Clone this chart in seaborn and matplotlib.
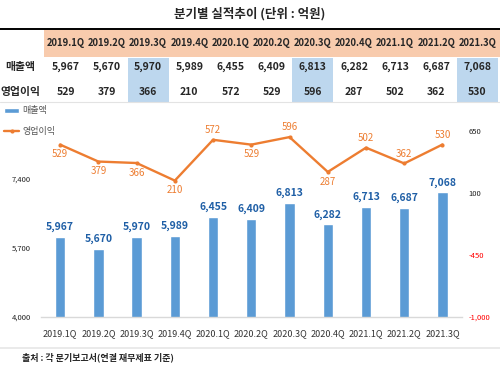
import numpy as np
import pandas as pd
import matplotlib
matplotlib.use('Agg')  # no display in the sandbox
import matplotlib.pyplot as plt
from matplotlib.patches import Rectangle
from matplotlib.lines import Line2D
import seaborn as sns

# chart data
quarters = ['2019.1Q', '2019.2Q', '2019.3Q', '2019.4Q', '2020.1Q', '2020.2Q',
            '2020.3Q', '2020.4Q', '2021.1Q', '2021.2Q', '2021.3Q']
sales = [5967, 5670, 5970, 5989, 6455, 6409, 6813, 6282, 6713, 6687, 7068]
op_profit = [529, 379, 366, 210, 572, 529, 596, 287, 502, 362, 530]
highlight_quarters = ['2019.3Q', '2020.3Q', '2021.3Q']
profit_label_above = [False, False, False, False, True, False, True, False, True, True, True]

left_ticks = [4000, 5700, 7400]
right_ticks = [-1000, -450, 100, 650]

title = '분기별 실적추이 (단위 : 억원)'
source_note = '출처 : 각 분기보고서(연결 재무제표 기준)'
row_labels = ['매출액', '영업이익']

BAR_COLOR = '#5B9BD5'
LINE_COLOR = '#ED7D31'
BAR_TEXT = '#1F5FA6'
HEADER_BG = '#F8CBAD'
HILITE_BG = '#BDD7EE'

W, H = 500, 370


def fx(x):
    return x / W


def fy(y):
    return 1 - y / H


sns.set_style('white')
plt.rcParams['font.family'] = ['Noto Sans CJK KR', 'DejaVu Sans']

df = pd.DataFrame({'quarter': quarters, 'sales': sales, 'op_profit': op_profit})

fig = plt.figure(figsize=(5, 3.7), dpi=100)

# --- table at the top ---
fig.text(0.5, fy(14), title, ha='center', va='center', fontsize=9, fontweight='bold')
fig.add_artist(Line2D([0, 1], [fy(28.5), fy(28.5)], color='black', lw=1.4))
fig.add_artist(Rectangle((fx(44), fy(57)), 1 - fx(44), (57 - 29.5) / H,
                         facecolor=HEADER_BG, edgecolor='none'))
col_x0, col_step, col_w = 65.8, 41.17, 41.2
for i, q in enumerate(quarters):
    cx = col_x0 + col_step * i
    if q in highlight_quarters:
        fig.add_artist(Rectangle((fx(cx - col_w / 2), fy(101.5)), col_w / W, (101.5 - 57.5) / H,
                                 facecolor=HILITE_BG, edgecolor='none'))
    fig.text(fx(cx), fy(43), q, ha='center', va='center', fontsize=6.8, fontweight='bold')
    fig.text(fx(cx), fy(67), f'{sales[i]:,}', ha='center', va='center', fontsize=7.5, fontweight='bold')
    fig.text(fx(cx), fy(92), f'{op_profit[i]:,}', ha='center', va='center', fontsize=7.5, fontweight='bold')
fig.text(fx(20), fy(67), row_labels[0], ha='center', va='center', fontsize=7.8, fontweight='bold')
fig.text(fx(20), fy(92), row_labels[1], ha='center', va='center', fontsize=7.8, fontweight='bold')
fig.add_artist(Line2D([0, 1], [fy(102), fy(102)], color='#e3e3e3', lw=0.8))

# --- combo chart ---
ax = fig.add_axes([fx(41), fy(317), (461.6 - 41) / W, (317 - 110) / H])
sns.barplot(data=df, x='quarter', y='sales', color=BAR_COLOR, width=0.27,
            saturation=1, ax=ax, label='매출액')
ax.set_ylim(4000, 9100)
ax.set_yticks(left_ticks)
ax.set_yticklabels([f'{t:,}' for t in left_ticks])
ax.set_xlabel('')
ax.set_ylabel('')
ax.tick_params(axis='y', length=0, labelsize=5.5, pad=7, labelcolor='#222222')
ax.tick_params(axis='x', length=0, labelsize=6.5, pad=9, labelcolor='#333333')
for s in ['left', 'right', 'top']:
    ax.spines[s].set_visible(False)
ax.spines['bottom'].set_color('#d9d9d9')
ax.spines['bottom'].set_linewidth(1)

for i, v in enumerate(sales):
    ax.annotate(f'{v:,}', (i, v), xytext=(0, 3.5), textcoords='offset points',
                ha='center', va='bottom', fontsize=7.5, fontweight='bold', color=BAR_TEXT)

ax2 = ax.twinx()
sns.lineplot(x=np.arange(len(df)), y=df['op_profit'], color=LINE_COLOR, lw=1.7,
             marker='o', markersize=3, markeredgewidth=0, ax=ax2, label='영업이익')
ax2.set_ylim(-1000, -1000 + 550 * 207 / 62)
ax2.set_yticks(right_ticks)
ax2.set_yticklabels([f'{t:,}' for t in right_ticks])
ax2.set_ylabel('')
ax2.tick_params(axis='y', length=0, labelsize=5.5, pad=5)
for lbl, t in zip(ax2.get_yticklabels(), right_ticks):
    lbl.set_color('#ff0000' if t < 0 else '#222222')
for s in ax2.spines.values():
    s.set_visible(False)
ax.set_xlim(-0.5, len(quarters) - 0.5)

for i, v in enumerate(op_profit):
    off = 7 if profit_label_above[i] else -7
    ax2.annotate(f'{v:,}', (i, v), xytext=(0, off), textcoords='offset points',
                 ha='center', va='center', fontsize=7, color=LINE_COLOR)

# legend at the top-left of the chart
for a in (ax, ax2):
    if a.get_legend() is not None:
        a.get_legend().remove()
h1, l1 = ax.get_legend_handles_labels()
h2, l2 = ax2.get_legend_handles_labels()
fig.legend(h1 + h2, l1 + l2, loc='upper left', bbox_to_anchor=(fx(4), fy(106.5)),
           frameon=False, fontsize=6.5, handlelength=1.7, handleheight=0.5,
           labelspacing=1.25, handletextpad=0.3, borderaxespad=0, borderpad=0,
           labelcolor='#555555')

# --- footer ---
fig.add_artist(Line2D([0, 1], [fy(347.5), fy(347.5)], color='#e6e6e6', lw=1.2))
fig.text(fx(22), fy(357), source_note, ha='left', va='center', fontsize=6.5, fontweight='bold')

fig.savefig('out.png', dpi=100)
